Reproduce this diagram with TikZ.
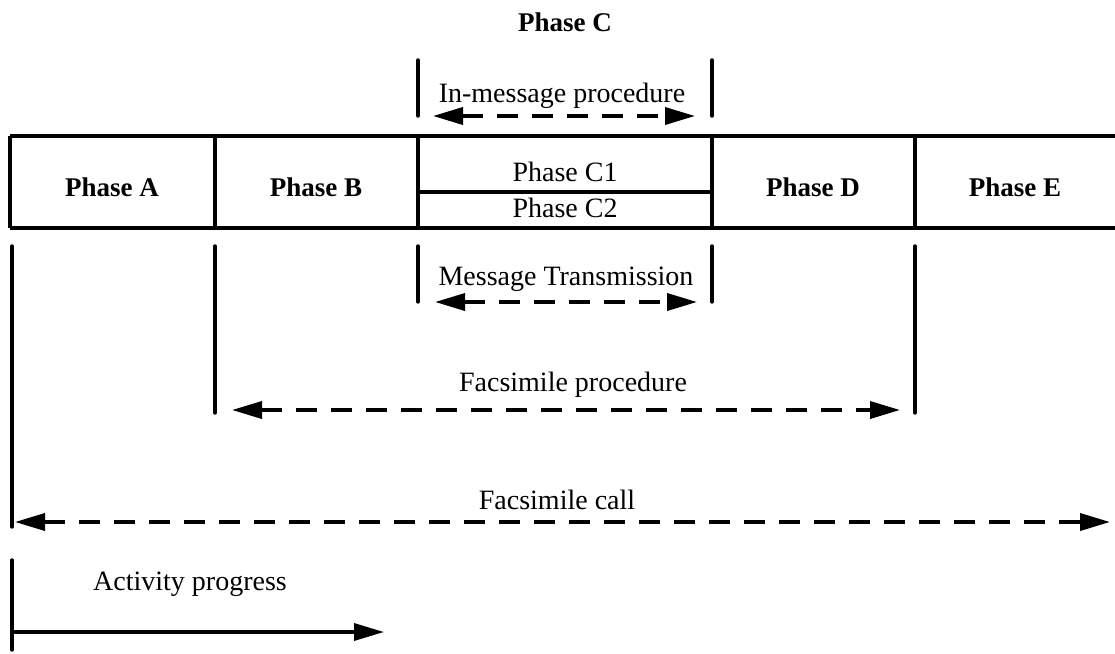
\documentclass[tikz,border=0pt]{standalone}
\usepackage{fontspec}
\setmainfont{Liberation Serif}
\usetikzlibrary{arrows.meta, positioning, calc}

\begin{document}
\begin{tikzpicture}[x=1pt, y=-1pt,
    phaseline/.style={line width=3.4pt},
    tickline/.style={line width=3.4pt, line cap=round},
    spanarrow/.style={line width=3.6pt, dash pattern=on 21pt off 14pt,
      {Triangle[length=30pt,width=17pt]}-{Triangle[length=30pt,width=17pt]}},
    progarrow/.style={line width=3.4pt, -{Triangle[length=30pt,width=17pt]}},
    lbl/.style={font=\fontsize{28}{30}\selectfont, inner sep=1pt},
    bold lbl/.style={lbl, font=\fontsize{27}{30}\selectfont\bfseries}]
  \useasboundingbox (0,0) rectangle (1115,653);

  % frame of the phases
  \draw[phaseline] (10,136) -- (1115,136);
  \draw[phaseline] (10,228) -- (1115,228);
  \foreach \x in {10,215,418,712,915} {
    \draw[phaseline] (\x,136) -- (\x,228);
  }
  \draw[phaseline] (418,192) -- (712,192);

  \node[bold lbl] (phA) at (112,187) {Phase A};
  \node[bold lbl] (phB) at (316,187) {Phase B};
  \node[lbl] (phC1) at (565,172) {Phase C1};
  \node[lbl] (phC2) at (565,208) {Phase C2};
  \node[bold lbl] (phD) at (813,187) {Phase D};
  \node[bold lbl] (phE) at (1015,187) {Phase E};
  \node[bold lbl] (phC) at (565,22) {Phase C};

  % span markers
  \coordinate (inTL) at (418,60);  \coordinate (inBL) at (418,116);
  \coordinate (inTR) at (712,60);  \coordinate (inBR) at (712,116);
  \coordinate (msTL) at (418,246); \coordinate (msBL) at (418,302);
  \coordinate (msTR) at (712,246); \coordinate (msBR) at (712,302);
  \coordinate (fpTL) at (215,246); \coordinate (fpBL) at (215,413);
  \coordinate (fpTR) at (915,246); \coordinate (fpBR) at (915,413);
  \coordinate (fcT) at (12,246);   \coordinate (fcB) at (12,527);
  \coordinate (apT) at (12,560);   \coordinate (apB) at (12,650);
  \foreach \a/\b in {inTL/inBL,inTR/inBR,msTL/msBL,msTR/msBR,fpTL/fpBL,fpTR/fpBR,fcT/fcB,apT/apB} {
    \draw[tickline] (\a) -- (\b);
  }

  % arrows
  \coordinate (inL) at (433,116);  \coordinate (inR) at (695,116);
  \coordinate (msL) at (435,302);  \coordinate (msR) at (697,302);
  \coordinate (fpL) at (232,410);  \coordinate (fpR) at (900,410);
  \coordinate (fcL) at (15,522);   \coordinate (fcR) at (1110,522);
  \coordinate (apL) at (12,632);   \coordinate (apR) at (384,632);
  \draw[spanarrow] (inL) -- (inR);
  \draw[spanarrow] (msL) -- (msR);
  \draw[spanarrow] (fpL) -- (fpR);
  \draw[spanarrow] (fcL) -- (fcR);
  \draw[progarrow] (apL) -- (apR);

  \node[lbl] (inmsg) at (562,96) {In-message procedure};
  \node[lbl] (msgtx) at (566,279) {Message Transmission};
  \node[lbl] (fproc) at (573,385) {Facsimile procedure};
  \node[lbl] (fcall) at (557,500) {Facsimile call};
  \node[lbl] (actp) at (190,584) {Activity progress};
\end{tikzpicture}
\end{document}
